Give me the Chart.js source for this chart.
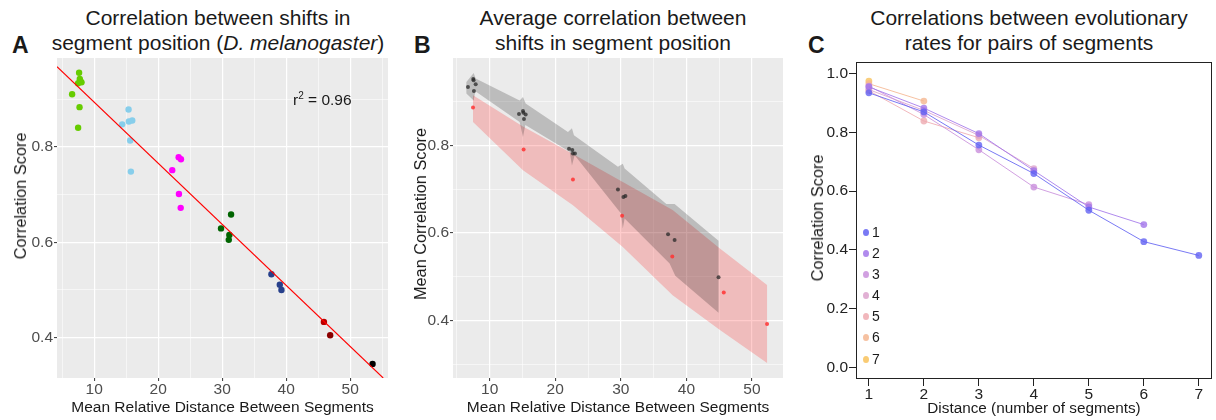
<!DOCTYPE html>
<html><head><meta charset="utf-8">
<script src="https://cdn.jsdelivr.net/npm/chart.js@4"></script>
<style>
body{margin:0;width:1216px;height:420px;background:#fff;position:relative;overflow:hidden;font-family:"Liberation Sans",Arial,sans-serif;color:#1a1a1a}
canvas{position:absolute;top:0}
.t{position:absolute;width:400px;text-align:center;font-size:21px;line-height:25px;white-space:nowrap;top:5px}
.L{position:absolute;font-weight:bold;font-size:23px;line-height:23px;top:34px}
.yt{position:absolute;white-space:nowrap;transform:translate(-50%,-50%) rotate(-90deg);line-height:18px}
#r2{position:absolute;left:293px;top:87px;font-size:15.5px;line-height:18px}
#leg{position:absolute;left:863px;top:222px;font-size:14px;line-height:21.1px;color:#1a1a1a}
#leg span{display:inline-block;width:6px;height:7px;border-radius:50%;margin-right:3px;vertical-align:1px}
</style></head><body>
<div class="t" style="left:18px">Correlation between shifts in<br>segment position (<i>D. melanogaster</i>)</div>
<div class="t" style="left:413px">Average correlation between<br>shifts in segment position</div>
<div class="t" style="left:829px">Correlations between evolutionary<br>rates for pairs of segments</div>
<div class="L" style="left:12px">A</div>
<div class="L" style="left:414px">B</div>
<div class="L" style="left:808px">C</div>
<canvas id="ca" width="400" height="420" style="left:0"></canvas>
<canvas id="cb" width="400" height="420" style="left:400px"></canvas>
<canvas id="cc" width="416" height="420" style="left:800px"></canvas>
<div class="yt" style="left:20px;top:196px;font-size:16.3px">Correlation Score</div>
<div class="yt" style="left:420px;top:214px;font-size:16.3px">Mean Correlation Score</div>
<div class="yt" style="left:817px;top:218px;font-size:16.3px">Correlation Score</div>
<div id="r2">r<sup style="font-size:10px">2</sup> = 0.96</div>
<div id="leg"></div>
<script>
// ---- panel A: points by segment group [distance, score]
const aLightGreen=[[7.65,0.955],[7.76,0.942],[7.85,0.938],[7.5,0.933],[8.03,0.935],[6.56,0.910],[7.72,0.883],[7.5,0.840]];
const aSkyBlue=[[15.38,0.878],[14.38,0.847],[15.43,0.853],[15.95,0.855],[15.63,0.813],[15.74,0.748]];
const aMagenta=[[23.2,0.778],[23.56,0.774],[22.2,0.751],[23.25,0.701],[23.52,0.672]];
const aDarkGreen=[[31.39,0.658],[29.82,0.629],[31.12,0.615],[31.03,0.605]];
const aNavy=[[37.69,0.533],[39.0,0.511],[39.26,0.500]];
const aDarkRed=[[45.89,0.433],[46.87,0.405]];
const aBlack=[[53.49,0.345]];
const aFitSlope=-0.0128, aFitIntercept=1.0214;
const aXTicks=[10,20,30,40,50], aXMinor=[5,15,25,35,45,55];
const aYTicks=[0.4,0.6,0.8], aYMinor=[0.5,0.7,0.9];

// ---- panel B
const bGreyPts=[[6.69,0.933],[7.5,0.951],[7.55,0.948],[7.87,0.939],[7.6,0.924],[14.47,0.871],[15.08,0.878],[15.15,0.874],[15.49,0.870],[15.23,0.860],
  [22.1,0.792],[22.6,0.789],[22.7,0.781],[23.0,0.781],[29.56,0.699],[30.4,0.682],[30.7,0.684],[37.2,0.597],[38.2,0.584],[44.9,0.499]];
const bRedPts=[[7.46,0.886],[15.18,0.790],[22.7,0.722],[30.2,0.639],[37.85,0.546],[45.7,0.464],[52.3,0.392]];
const bGreyUpper=[[6.45,0.944],[7.56,0.965],[7.87,0.952],[14.57,0.902],[15.08,0.910],[15.49,0.895],[21.94,0.830],[22.55,0.839],[22.85,0.823],
  [29.56,0.751],[30.3,0.758],[30.58,0.747],[36.94,0.666],[38.2,0.666],[44.9,0.582]];
const bGreyLower=[[6.45,0.918],[7.56,0.902],[7.82,0.923],[14.57,0.853],[15.08,0.819],[15.44,0.846],[22.2,0.785],[22.55,0.754],[22.96,0.777],
  [30.03,0.644],[30.3,0.610],[30.58,0.633],[37.44,0.530],[38.3,0.502],[44.9,0.418]];
const bRedUpper=[[7.46,0.914],[15.08,0.843],[22.7,0.780],[30.3,0.716],[37.9,0.652],[45.06,0.565],[52.3,0.481]];
const bRedLower=[[7.46,0.853],[15.08,0.743],[22.7,0.663],[30.3,0.568],[37.9,0.458],[45.06,0.379],[52.3,0.303]];
const bXTicks=[10,20,30,40,50], bXMinor=[5,15,25,35,45];
const bYTicks=[0.4,0.6,0.8], bYMinor=[0.3,0.5,0.7,0.9];

// ---- panel C: one series per starting segment, values at distance 1..n
const cDistance=[1,2,3,4,5,6,7];
const cSeries1=[0.935,0.870,0.757,0.660,0.535,0.428,0.381];
const cSeries2=[0.955,0.883,0.796,0.670,0.546,0.486];
const cSeries3=[0.958,0.861,0.741,0.614,0.554];
const cSeries4=[0.946,0.875,0.790,0.677];
const cSeries5=[0.942,0.839,0.782];
const cSeries6=[0.966,0.907];
const cSeries7=[0.975];
const cLabels=['1','2','3','4','5','6','7'];
const cColors=['#6262f2','#a276ea','#c98fdc','#dca2cc','#eeaab0','#f5b690','#f8c25c'];
const cYTicks=[0,0.2,0.4,0.6,0.8,1.0];

Chart.defaults.font.family='"Liberation Sans", Arial, sans-serif';
Chart.defaults.animation=false;
Chart.defaults.events=[];
Chart.defaults.plugins.legend.display=false;
Chart.defaults.plugins.tooltip.enabled=false;

const panelBg={id:'panelBg',
  beforeDraw(c,a,o){ if(!o.color) return; const {ctx,chartArea:r}=c; ctx.save(); ctx.fillStyle=o.color; ctx.fillRect(r.left,r.top,r.width,r.height); ctx.restore(); },
  afterDraw(c,a,o){ if(!o.box) return; const {ctx,chartArea:r}=c; ctx.save(); ctx.strokeStyle=o.box; ctx.lineWidth=1;
    ctx.strokeRect(Math.round(r.left)+0.5,Math.round(r.top)+0.5,Math.round(r.width)-1,Math.round(r.height)-1); ctx.restore(); }};

const pts=a=>a.map(p=>({x:p[0],y:p[1]}));
const setTicks=(major,minor)=>s=>{ s.ticks=[...major,...minor].sort((p,q)=>p-q).map(v=>({value:v})); };

function ggAxes(xr,yr,xt,xm,yt,ym,yW){
  const grid=(maj)=>({color:'#ffffff',lineWidth:c=>maj.includes(c.tick.value)?1.2:0.55,
    tickColor:c=>maj.includes(c.tick.value)?'#333':'rgba(0,0,0,0)',tickLength:3,tickWidth:1});
  return {
    x:{type:'linear',min:xr[0],max:xr[1],afterBuildTicks:setTicks(xt,xm),afterFit:s=>{s.height=42},
      grid:grid(xt),border:{display:false},
      ticks:{autoSkip:false,maxRotation:0,color:'#4d4d4d',font:{size:15.5,lineHeight:1},padding:1,callback:v=>xt.includes(v)?String(v):''},
      title:{display:true,text:'Mean Relative Distance Between Segments',color:'#1a1a1a',font:{size:15.5,lineHeight:1},padding:{top:0,bottom:5}}},
    y:{type:'linear',min:yr[0],max:yr[1],afterBuildTicks:setTicks(yt,ym),afterFit:s=>{s.width=yW},
      grid:grid(yt),border:{display:false},
      ticks:{autoSkip:false,color:'#4d4d4d',font:{size:15.5,lineHeight:1},padding:1,callback:v=>yt.includes(v)?v.toFixed(1):''}}
  };
}

// ---- chart A
const aXMin=4.2,aXMax=55.9;
const aFitEnd=(aFitIntercept-0.3155)/-aFitSlope;
const aGroups=[[aLightGreen,'#66cc00'],[aSkyBlue,'#87ceeb'],[aMagenta,'#ff00ff'],[aDarkGreen,'#006400'],[aNavy,'#27408b'],[aDarkRed,['#b80000','#8b0000']],[aBlack,'#000000']];
new Chart(document.getElementById('ca'),{
  type:'scatter',
  data:{datasets:[
    {data:[{x:aXMin,y:aFitIntercept+aFitSlope*aXMin},{x:aFitEnd,y:aFitIntercept+aFitSlope*aFitEnd}],showLine:true,borderColor:'#ff0000',borderWidth:1.1,pointRadius:0,order:0},
    ...aGroups.map(g=>({data:pts(g[0]),backgroundColor:g[1],borderWidth:0,pointRadius:3.2,order:1}))
  ]},
  options:{responsive:false,layout:{padding:{left:0,right:12,top:58,bottom:0}},
    plugins:{panelBg:{color:'#ebebeb'}},
    scales:ggAxes([aXMin,aXMax],[0.3155,0.986],aXTicks,aXMinor,aYTicks,aYMinor,57)},
  plugins:[panelBg]
});

// ---- chart B
const poly=(up,lo)=>pts(up.concat(lo.slice().reverse()));
new Chart(document.getElementById('cb'),{
  type:'scatter',
  data:{datasets:[
    {data:pts(bGreyPts),backgroundColor:'rgba(40,40,40,0.75)',borderWidth:0,pointRadius:2,order:0},
    {data:pts(bRedPts),backgroundColor:'rgba(255,50,50,0.85)',borderWidth:0,pointRadius:2,order:0},
    {data:poly(bGreyUpper,bGreyLower),showLine:true,fill:'shape',backgroundColor:'rgba(0,0,0,0.2)',borderColor:'rgba(0,0,0,0)',borderWidth:0,pointRadius:0,tension:0,order:1},
    {data:poly(bRedUpper,bRedLower),showLine:true,fill:'shape',backgroundColor:'rgba(255,0,0,0.2)',borderColor:'rgba(0,0,0,0)',borderWidth:0,pointRadius:0,tension:0,order:2}
  ]},
  options:{responsive:false,layout:{padding:{left:0,right:17,top:58,bottom:0}},
    plugins:{panelBg:{color:'#ebebeb'}},
    scales:ggAxes([4.41,54.73],[0.269,0.999],bXTicks,bXMinor,bYTicks,bYMinor,53)},
  plugins:[panelBg]
});

// ---- chart C
const cAll=[cSeries1,cSeries2,cSeries3,cSeries4,cSeries5,cSeries6,cSeries7];
const hexA=(h,a)=>`rgba(${parseInt(h.slice(1,3),16)},${parseInt(h.slice(3,5),16)},${parseInt(h.slice(5,7),16)},${a})`;
new Chart(document.getElementById('cc'),{
  type:'scatter',
  data:{datasets:cAll.map((s,i)=>({label:cLabels[i],data:s.map((v,j)=>({x:cDistance[j],y:v})),showLine:true,
    borderColor:hexA(cColors[i],0.85),borderWidth:1,backgroundColor:hexA(cColors[i],0.8),pointRadius:3.4,pointBorderWidth:0}))},
  options:{responsive:false,layout:{padding:{left:0,right:1,top:62,bottom:0}},
    plugins:{panelBg:{box:'#222'}},
    scales:{
      x:{type:'linear',min:0.766,max:7.24,afterBuildTicks:s=>{s.ticks=cDistance.map(v=>({value:v}))},afterFit:s=>{s.height=41},
        grid:{drawOnChartArea:false,color:'#222',tickLength:7},border:{display:false},
        ticks:{color:'#222',font:{size:15.5,lineHeight:1},padding:1},
        title:{display:true,text:'Distance (number of segments)',color:'#1a1a1a',font:{size:15.3,lineHeight:1},padding:{top:0,bottom:4}}},
      y:{type:'linear',min:-0.04,max:1.04,afterBuildTicks:s=>{s.ticks=cYTicks.map(v=>({value:v}))},afterFit:s=>{s.width=56},
        grid:{drawOnChartArea:false,color:'#222',tickLength:7},border:{display:false},
        ticks:{color:'#222',font:{size:15.5,lineHeight:1},padding:1,callback:v=>v.toFixed(1)}}
    }},
  plugins:[panelBg]
});

document.getElementById('leg').innerHTML=cLabels.map((l,i)=>`<div><span style="background:${hexA(cColors[i],0.85)}"></span>${l}</div>`).join('');
</script>
</body></html>
